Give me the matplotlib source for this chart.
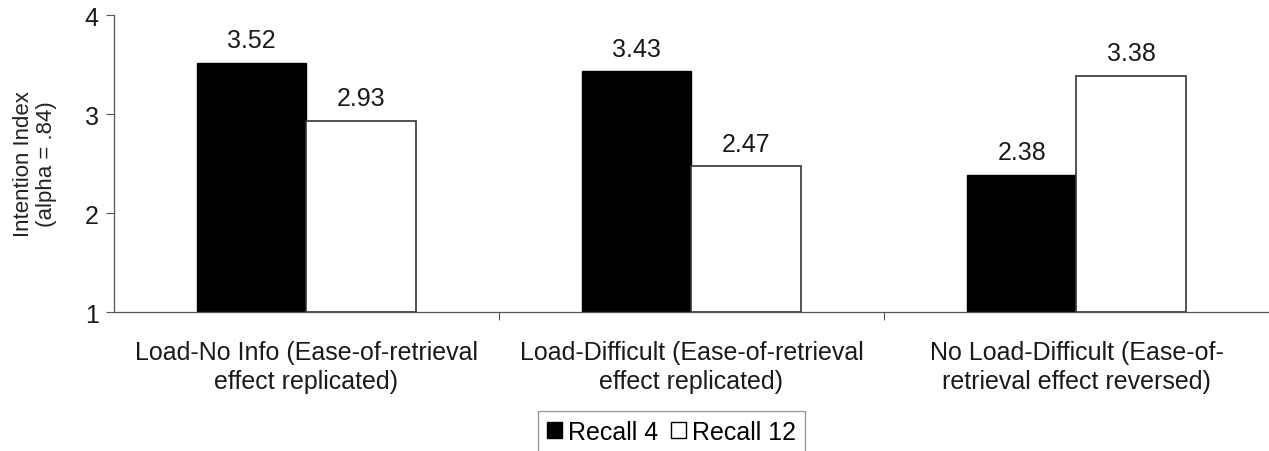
import matplotlib
matplotlib.use("Agg")
import matplotlib.pyplot as plt
import numpy as np
from matplotlib.patches import Patch

categories = ["Load-No Info (Ease-of-retrieval\neffect replicated)",
              "Load-Difficult (Ease-of-retrieval\neffect replicated)",
              "No Load-Difficult (Ease-of-\nretrieval effect reversed)"]
recall4 = [3.52, 3.43, 2.38]
recall12 = [2.93, 2.47, 3.38]
series_names = ["Recall 4", "Recall 12"]

plt.rcParams['font.family'] = ['Liberation Sans', 'DejaVu Sans']

fig = plt.figure(figsize=(12.69, 4.52), dpi=100)
ax = fig.add_axes([0.0898, 0.3075, 0.9102, 0.6571])

x = np.arange(len(categories))
w = 0.285
base = 1
ax.bar(x - w/2, np.array(recall4) - base, w, bottom=base, color='black', edgecolor='black', linewidth=1)
ax.bar(x + w/2, np.array(recall12) - base, w, bottom=base, color='white', edgecolor='#333333', linewidth=1.2)

for xi, v in zip(x - w/2, recall4):
    ax.text(xi, v + 0.11, f"{v:.2f}", ha='center', va='bottom', fontsize=18, color='#1a1a1a')
for xi, v in zip(x + w/2, recall12):
    ax.text(xi, v + 0.11, f"{v:.2f}", ha='center', va='bottom', fontsize=18, color='#1a1a1a')

ax.set_xlim(-0.5, 2.5)
ax.set_ylim(1, 4)
ax.set_yticks([1, 2, 3, 4])
ax.tick_params(axis='y', labelsize=18, length=6, width=0.8, color='#555555', pad=5, labelcolor='#1a1a1a')
ax.set_xticks([0.5, 1.5])
ax.set_xticklabels([])
ax.tick_params(axis='x', length=6, width=0.8, color='#555555')
ax.set_xticks(x, minor=True)
ax.set_xticklabels(categories, minor=True, fontsize=18, linespacing=1.3, color='#1a1a1a')
ax.tick_params(axis='x', which='minor', length=0, pad=20)

for s in ['top', 'right']:
    ax.spines[s].set_visible(False)
for s in ['left', 'bottom']:
    ax.spines[s].set_color('#555555')
    ax.spines[s].set_linewidth(0.9)

ax.set_ylabel("Intention Index\n(alpha = .84)", fontsize=16, color='#222222', labelpad=20, linespacing=1.15)

handles = [Patch(facecolor='black', edgecolor='black'),
           Patch(facecolor='white', edgecolor='black')]
leg = fig.legend(handles, series_names, loc='upper center', bbox_to_anchor=(0.529, 0.0885),
                 ncol=2, fontsize=18, frameon=True, fancybox=False, edgecolor='#777777',
                 handlelength=0.6, handleheight=0.6, handletextpad=0.25, columnspacing=0.5,
                 borderpad=0.35, borderaxespad=0)
leg.get_frame().set_linewidth(0.9)

fig.savefig("out.png", dpi=100)
